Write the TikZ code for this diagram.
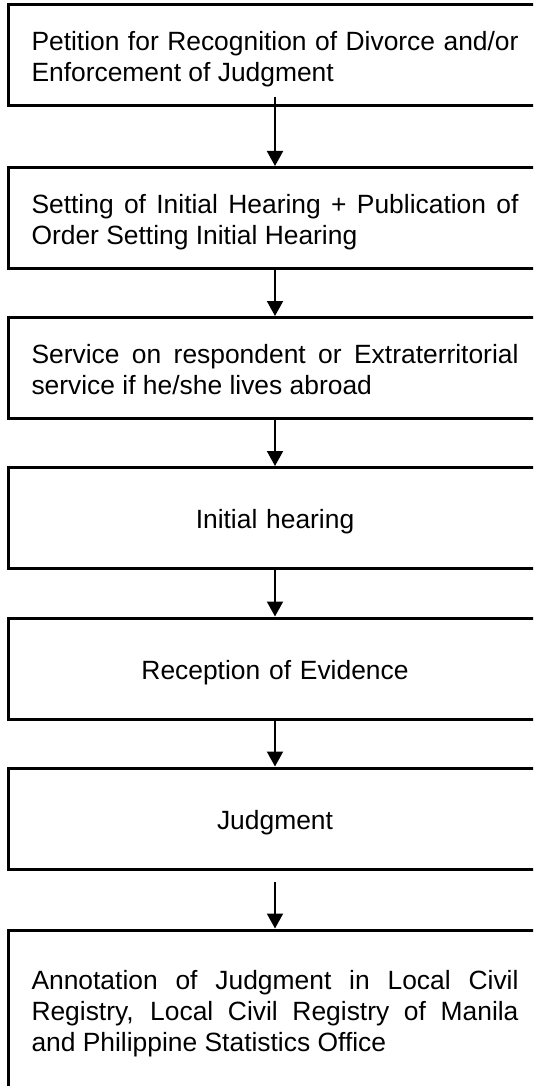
\documentclass[tikz,border=0pt]{standalone}
\usepackage{fontspec}
\setmainfont{Liberation Sans}
\usetikzlibrary{arrows.meta}
\begin{document}
\begin{tikzpicture}[x=1pt,y=-1pt,
  stepbox/.style={draw=black, line width=3pt, rectangle, minimum width=534pt,
    minimum height=101pt, inner sep=0pt, text width=487pt, align=justify,
    font=\fontsize{26.4pt}{31pt}\selectfont, text height=31pt,
    execute at begin node={\tolerance=10000 \hyphenpenalty=10000 },
    execute at end node={\strut}},
  centerbox/.style={stepbox, align=center},
  arr/.style={draw=black, line width=2pt, -{Triangle[length=15pt,width=16pt]}}]
\useasboundingbox (0,0) rectangle (533,1086);
\clip (0,0) rectangle (533,1086);
\fill[white] (0,0) rectangle (533,1086);

\node[stepbox] (b1) at (275,55) {Petition for Recognition of Divorce and/or\linebreak Enforcement of Judgment};
\node[stepbox] (b2) at (275,218) {Setting of Initial Hearing + Publication of\linebreak Order Setting Initial Hearing};
\node[stepbox] (b3) at (275,368) {Service on respondent or Extraterritorial\linebreak service if he/she lives abroad};
\node[centerbox] (b4) at (275,518) {Initial hearing};
\node[centerbox] (b5) at (275,668.5) {Reception of Evidence};
\node[centerbox] (b6) at (275,818.5) {Judgment};
\node[stepbox, minimum height=159pt] (b7) at (275,1009.5) {Annotation of Judgment in Local Civil\linebreak Registry, Local Civil Registry of Manila\linebreak and Philippine Statistics Office};

\draw[arr] ([yshift=10pt]b1.south) -- (b2.north);
\draw[arr] (b2.south) -- (b3.north);
\draw[arr] (b3.south) -- (b4.north);
\draw[arr] (b4.south) -- (b5.north);
\draw[arr] (b5.south) -- (b6.north);
\draw[arr] ([yshift=-11.5pt]b6.south) -- (b7.north);
\end{tikzpicture}
\end{document}
